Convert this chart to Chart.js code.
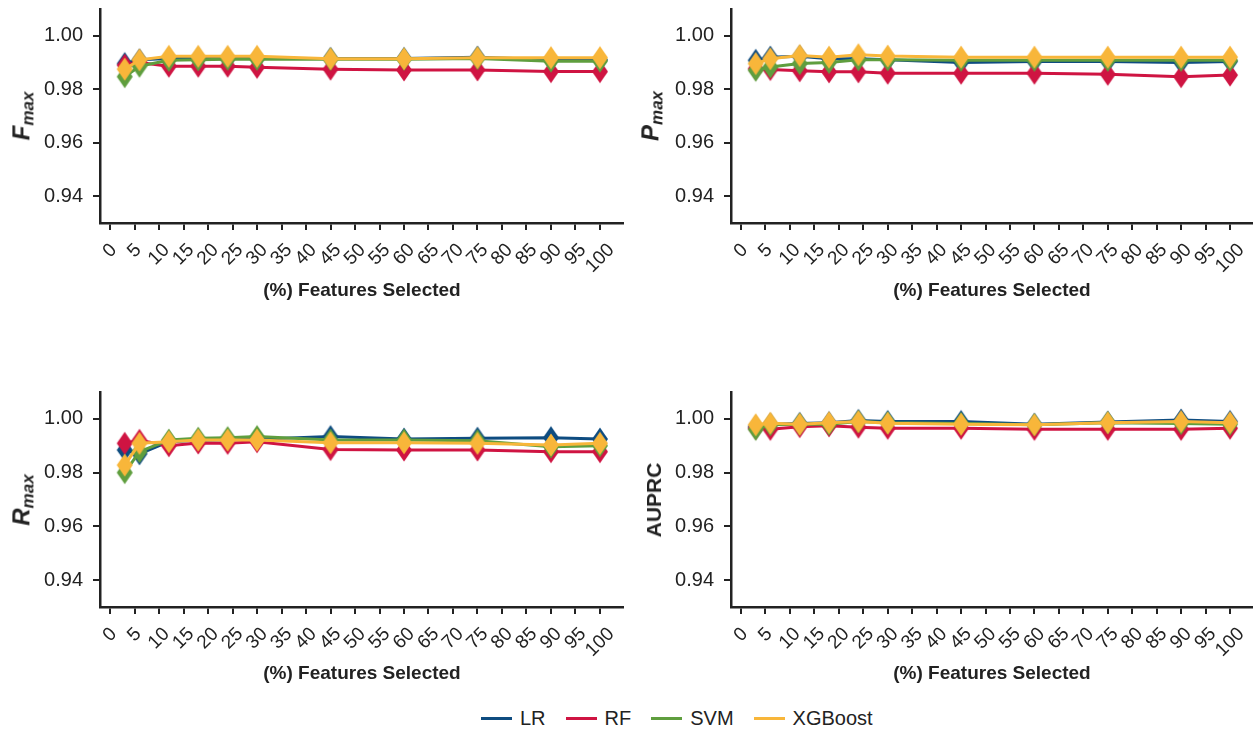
<!DOCTYPE html>
<html>
<head>
<meta charset="utf-8">
<script src="https://cdn.jsdelivr.net/npm/chart.js@4.4.1/dist/chart.umd.min.js"></script>
<style>
  body { margin: 0; background: #fff; font-family: 'Liberation Sans', Arial, sans-serif; color: #222; }
  #wrap { position: relative; width: 1253px; height: 730px; overflow: hidden; }
  .panel { position: absolute; }
  .ytitle { position: absolute; transform: translate(-50%, -50%) rotate(-90deg); font-weight: bold; white-space: nowrap; }
  .ytitle i { font-size: 24px; }
  .ytitle sub { font-size: 17px; font-style: italic; }
  .xtitle { position: absolute; transform: translate(-50%, -50%); font-weight: bold; font-size: 19px; white-space: nowrap; }
  #legend { position: absolute; left: 481px; top: 707px; display: flex; font-size: 20px; }
  #legend span { display: inline-flex; align-items: center; margin-right: 20px; }
  #legend b { display: inline-block; width: 31px; height: 2.5px; margin-right: 8px; }
</style>
</head>
<body>
<div id="wrap">
  <div class="panel" style="left:0;top:0;width:630px;height:300px"><canvas id="c-fmax"></canvas></div>
  <div class="panel" style="left:631px;top:0;width:622px;height:300px"><canvas id="c-pmax"></canvas></div>
  <div class="panel" style="left:0;top:383px;width:630px;height:300px"><canvas id="c-rmax"></canvas></div>
  <div class="panel" style="left:631px;top:383px;width:622px;height:300px"><canvas id="c-auprc"></canvas></div>

  <div class="ytitle" style="left:23px;top:116px"><i>F</i><sub>max</sub></div>
  <div class="ytitle" style="left:652px;top:116px"><i>P</i><sub>max</sub></div>
  <div class="ytitle" style="left:23px;top:500px"><i>R</i><sub>max</sub></div>
  <div class="ytitle" style="left:654px;top:500px;font-size:21px">AUPRC</div>

  <div class="xtitle" style="left:362px;top:290px">(%) Features Selected</div>
  <div class="xtitle" style="left:992px;top:290px">(%) Features Selected</div>
  <div class="xtitle" style="left:362px;top:673px">(%) Features Selected</div>
  <div class="xtitle" style="left:992px;top:673px">(%) Features Selected</div>

  <div id="legend"></div>
</div>
<script>
'use strict';

// ***** DATA *****
let featurePct = [3, 6, 12, 18, 24, 30, 45, 60, 75, 90, 100];

let xTicks = [0, 5, 10, 15, 20, 25, 30, 35, 40, 45, 50, 55, 60, 65, 70, 75, 80, 85, 90, 95, 100];
let yTicks = [0.94, 0.96, 0.98, 1.00];

let modelNames = ['LR', 'RF', 'SVM', 'XGBoost'];
let modelColors = ['#0e4c80', '#cf1442', '#5f9e3e', '#f8b63a'];

// Fmax
let fmaxLR  = [0.9896, 0.9910, 0.9915, 0.9915, 0.9915, 0.9915, 0.9915, 0.9915, 0.9920, 0.9910, 0.9910];
let fmaxRF  = [0.9890, 0.9900, 0.9886, 0.9886, 0.9886, 0.9882, 0.9875, 0.9872, 0.9872, 0.9866, 0.9866];
let fmaxSVM = [0.9847, 0.9886, 0.9908, 0.9910, 0.9912, 0.9912, 0.9912, 0.9912, 0.9915, 0.9905, 0.9905];
let fmaxXGB = [0.9875, 0.9910, 0.9923, 0.9923, 0.9923, 0.9923, 0.9914, 0.9914, 0.9918, 0.9918, 0.9918];

// Pmax
let pmaxLR  = [0.9908, 0.9920, 0.9923, 0.9914, 0.9914, 0.9910, 0.9900, 0.9904, 0.9904, 0.9900, 0.9904];
let pmaxRF  = [0.9877, 0.9874, 0.9869, 0.9865, 0.9865, 0.9860, 0.9860, 0.9860, 0.9856, 0.9847, 0.9853];
let pmaxSVM = [0.9871, 0.9883, 0.9896, 0.9900, 0.9910, 0.9910, 0.9908, 0.9908, 0.9908, 0.9908, 0.9908];
let pmaxXGB = [0.9896, 0.9914, 0.9926, 0.9920, 0.9929, 0.9924, 0.9920, 0.9920, 0.9920, 0.9920, 0.9920];

// Rmax
let rmaxLR  = [0.9884, 0.9870, 0.9915, 0.9920, 0.9922, 0.9924, 0.9934, 0.9925, 0.9928, 0.9930, 0.9925];
let rmaxRF  = [0.9909, 0.9920, 0.9900, 0.9910, 0.9909, 0.9915, 0.9886, 0.9884, 0.9884, 0.9878, 0.9878];
let rmaxSVM = [0.9800, 0.9878, 0.9921, 0.9928, 0.9930, 0.9934, 0.9921, 0.9921, 0.9919, 0.9896, 0.9900];
let rmaxXGB = [0.9828, 0.9909, 0.9915, 0.9921, 0.9921, 0.9921, 0.9911, 0.9911, 0.9909, 0.9903, 0.9909];

// AUPRC
let auprcLR  = [0.9971, 0.9980, 0.9983, 0.9986, 0.9994, 0.9990, 0.9990, 0.9980, 0.9988, 0.9996, 0.9990];
let auprcRF  = [0.9965, 0.9961, 0.9971, 0.9974, 0.9969, 0.9965, 0.9965, 0.9961, 0.9961, 0.9961, 0.9965];
let auprcSVM = [0.9961, 0.9978, 0.9980, 0.9980, 0.9990, 0.9986, 0.9983, 0.9978, 0.9986, 0.9983, 0.9980];
let auprcXGB = [0.9978, 0.9984, 0.9980, 0.9986, 0.9990, 0.9984, 0.9980, 0.9978, 0.9986, 0.9990, 0.9986];

// ***** HELPERS *****
// tall diamond used as the marker
function makeDiamond(color) {
  let c = document.createElement('canvas');
  c.width = 18;
  c.height = 26;
  let ctx = c.getContext('2d');
  ctx.fillStyle = color;
  ctx.beginPath();
  ctx.moveTo(9, 1.5);
  ctx.lineTo(17, 13);
  ctx.lineTo(9, 24.5);
  ctx.lineTo(1, 13);
  ctx.closePath();
  ctx.fill();
  return c;
}

let diamonds = modelColors.map(makeDiamond);

// drawing order: XGBoost on top, LR at the bottom
let drawOrder = [3, 2, 1, 0];

// x tick labels rotated 45deg, box centred under the tick
let rotatedXLabels = {
  id: 'rotatedXLabels',
  afterDraw(chart) {
    let ctx = chart.ctx;
    let xs = chart.scales.x;
    let size = 19;
    ctx.save();
    ctx.font = size + 'px "Liberation Sans", Arial, sans-serif';
    ctx.fillStyle = '#222';
    ctx.textAlign = 'center';
    ctx.textBaseline = 'middle';
    for (let v of xTicks) {
      let label = String(v);
      let w = ctx.measureText(label).width;
      let px = xs.getPixelForValue(v);
      let py = chart.chartArea.bottom + 19 + (w + size * 0.75) * 0.3536;
      ctx.save();
      ctx.translate(px, py);
      ctx.rotate(-Math.PI / 4);
      ctx.fillText(label, 0, 0);
      ctx.restore();
    }
    ctx.restore();
  }
};

function makeDatasets(seriesList) {
  let sets = [];
  for (let i = 0; i < seriesList.length; i++) {
    sets.push({
      label: modelNames[i],
      data: featurePct.map((x, j) => ({ x: x, y: seriesList[i][j] })),
      borderColor: modelColors[i],
      backgroundColor: modelColors[i],
      borderWidth: 3,
      pointStyle: diamonds[i],
      pointRadius: 9,
      tension: 0,
      clip: false,
      order: drawOrder[i]
    });
  }
  return sets;
}

function makeChart(canvasId, seriesList, xHeight, rightPad) {
  let ctx = document.getElementById(canvasId).getContext('2d');
  return new Chart(ctx, {
    type: 'line',
    data: { datasets: makeDatasets(seriesList) },
    plugins: [rotatedXLabels],
    options: {
      responsive: true,
      maintainAspectRatio: false,
      animation: false,
      layout: { autoPadding: false, padding: { left: 40, top: 9, right: rightPad, bottom: 0 } },
      plugins: { legend: { display: false }, tooltip: { enabled: false } },
      scales: {
        x: {
          type: 'linear',
          min: -2.05,
          max: 104.7,
          afterBuildTicks: (scale) => { scale.ticks = xTicks.map(v => ({ value: v })); },
          afterFit: (scale) => { scale.height = xHeight; scale.paddingLeft = 0; scale.paddingRight = 0; },
          grid: { drawOnChartArea: false, drawTicks: true, tickLength: 7, color: '#222', lineWidth: 2 },
          border: { color: '#222', width: 2.5 },
          ticks: { display: false }
        },
        y: {
          min: 0.93,
          max: 1.01,
          afterBuildTicks: (scale) => { scale.ticks = yTicks.map(v => ({ value: v })); },
          afterFit: (scale) => { scale.width = 60; scale.paddingTop = 0; scale.paddingBottom = 0; },
          grid: { drawOnChartArea: false, drawTicks: true, tickLength: 7, color: '#222', lineWidth: 2 },
          border: { color: '#222', width: 2.5 },
          ticks: {
            color: '#222',
            font: { family: 'Liberation Sans', size: 20 },
            padding: 10,
            callback: (v) => v.toFixed(2)
          }
        }
      }
    }
  });
}

makeChart('c-fmax', [fmaxLR, fmaxRF, fmaxSVM, fmaxXGB], 77, 7);
makeChart('c-pmax', [pmaxLR, pmaxRF, pmaxSVM, pmaxXGB], 77, 0);
makeChart('c-rmax', [rmaxLR, rmaxRF, rmaxSVM, rmaxXGB], 76, 7);
makeChart('c-auprc', [auprcLR, auprcRF, auprcSVM, auprcXGB], 76, 0);

// ***** LEGEND *****
let legendBox = document.getElementById('legend');
for (let i = 0; i < modelNames.length; i++) {
  let item = document.createElement('span');
  item.innerHTML = `<b style="background:${modelColors[i]}"></b>${modelNames[i]}`;
  legendBox.appendChild(item);
}
</script>
</body>
</html>
